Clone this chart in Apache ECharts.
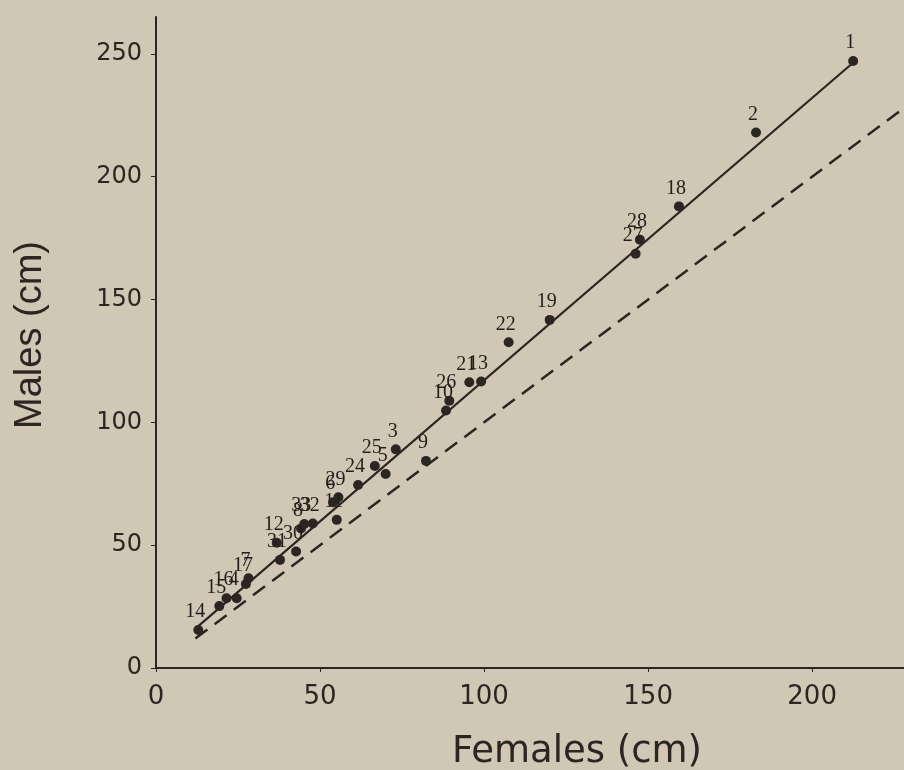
<!DOCTYPE html>
<html>
<head>
<meta charset="utf-8">
<title>Males vs Females</title>
<script type="text/javascript" src="https://cdn.jsdelivr.net/npm/echarts@6/dist/echarts.min.js"></script>
<style>
  html, body { margin: 0; padding: 0; background: #d0c8b4; }
</style>
</head>
<body>
<div id="main" style="width: 904px;height:770px;"></div>
<script type="text/javascript">
// point ids and measurements (cm)
var ids     = ['1', '2', '3', '4', '5', '6', '7', '8', '9', '10', '11', '12', '13', '14', '15', '16',
               '17', '18', '19', '21', '22', '24', '25', '26', '27', '28', '29', '30', '31', '32', '33'];
var females = [212.5, 182.9, 73.1, 24.6, 70.0, 54.0, 28.2, 44.2, 82.3, 88.4, 55.1, 36.8, 99.1, 12.9, 19.3, 21.5,
               27.4, 159.4, 120.0, 95.5, 107.5, 61.6, 66.7, 89.4, 146.2, 147.5, 55.6, 42.7, 37.8, 47.8, 45.2];
var males   = [247.1, 218.0, 89.0, 28.4, 79.0, 67.5, 36.5, 56.8, 84.3, 104.8, 60.3, 51.0, 116.6, 15.5, 25.2, 28.4,
               34.2, 187.9, 141.7, 116.3, 132.6, 74.5, 82.2, 108.8, 168.6, 174.3, 69.5, 47.4, 44.0, 58.8, 58.6];

// fitted line (solid) and equal-size line (dashed)
var fitX   = [12, 213];
var fitY   = [16, 247];
var equalX = [12, 232];
var equalY = [12, 232];

var ticks = [0, 50, 100, 150, 200, 250];

var ink = '#2b2622';

var myChart = echarts.init(document.getElementById('main'));

var points = [];
for (var i = 0; i < ids.length; i++) {
    points.push({ value: [females[i], males[i]], name: ids[i] });
}

myChart.setOption({
    backgroundColor: '#d0c8b4',
    animation: false,
    grid: { left: 156, right: 0, top: 17, bottom: 102 },
    xAxis: {
        type: 'value',
        min: 0,
        max: 228,
        interval: 50,
        splitLine: { show: false },
        axisLine: { lineStyle: { color: ink, width: 2 } },
        axisTick: { length: 4, lineStyle: { color: ink }, customValues: ticks.slice(0, 5) },
        axisLabel: { color: ink, fontFamily: 'DejaVu Sans', fontSize: 26, margin: 16,
                     customValues: ticks.slice(0, 5) }
    },
    yAxis: {
        type: 'value',
        min: 0,
        max: 265,
        interval: 50,
        splitLine: { show: false },
        axisLine: { lineStyle: { color: ink, width: 2 } },
        axisTick: { length: 5, lineStyle: { color: ink }, customValues: ticks },
        axisLabel: { color: ink, fontFamily: 'DejaVu Sans', fontSize: 24, margin: 14,
                     customValues: ticks }
    },
    graphic: [
        {
            type: 'text',
            x: 577, y: 752,
            style: { text: 'Females (cm)', fill: ink, font: '37px "DejaVu Sans"',
                     textAlign: 'center', textVerticalAlign: 'middle' }
        },
        {
            type: 'text',
            x: 31, y: 335,
            rotation: Math.PI / 2,
            style: { text: 'Males (cm)', fill: ink, font: '38px "Liberation Sans"',
                     textAlign: 'center', textVerticalAlign: 'middle' }
        }
    ],
    series: [
        {
            name: 'equal',
            type: 'line',
            data: [[equalX[0], equalY[0]], [equalX[1], equalY[1]]],
            showSymbol: false,
            clip: true,
            lineStyle: { color: ink, width: 2.5, type: [15, 9] }
        },
        {
            name: 'fit',
            type: 'line',
            data: [[fitX[0], fitY[0]], [fitX[1], fitY[1]]],
            showSymbol: false,
            lineStyle: { color: ink, width: 2.2 }
        },
        {
            name: 'pairs',
            type: 'scatter',
            data: points,
            symbolSize: 10,
            itemStyle: { color: ink, opacity: 1 },
            label: {
                show: true,
                position: 'top',
                distance: 3,
                offset: [-3, 0],
                formatter: '{b}',
                color: '#231e1a',
                fontFamily: 'Liberation Serif',
                fontSize: 20
            }
        }
    ]
});
</script>
</body>
</html>
